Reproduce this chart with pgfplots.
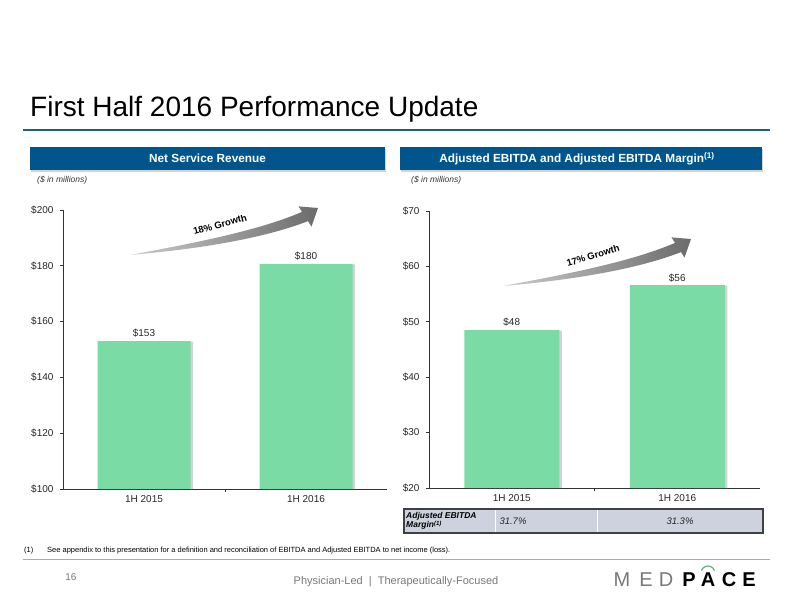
\documentclass[border=0pt]{standalone}
\usepackage{fontspec}
\setmainfont{Liberation Sans}
\usepackage{pgfplots}
\pgfplotsset{compat=1.18}
\usepackage{pgfplotstable}
\usetikzlibrary{shadows}

\definecolor{mpblue}{RGB}{0,86,140}
\definecolor{mprule}{RGB}{25,95,145}
\definecolor{mpgreen}{RGB}{122,219,165}
\definecolor{mpline}{RGB}{110,206,150}
\definecolor{tblfill}{RGB}{205,210,222}
\definecolor{txtgray}{RGB}{120,120,120}

% bar heights, labels as printed
\pgfplotstableread{
x y lbl
0 153 153
1 180.7 180
}\revenue
\pgfplotstableread{
x y lbl
0 48.5 48
1 56.6 56
}\ebitda

\pgfplotsset{
  slidebar/.style={
    scale only axis, anchor=south west,
    xmin=-0.5, xmax=1.5,
    axis x line*=bottom, axis y line*=left,
    axis line style={black!80, line width=0.8pt},
    tick align=outside, major tick length=3pt,
    tick style={black!80, line width=0.6pt},
    xtick={0.5}, xticklabels={},
    extra x ticks={0,1}, extra x tick labels={1H 2015,1H 2016},
    extra x tick style={major tick length=0pt,
      xticklabel style={yshift=-3pt}},
    ticklabel style={font=\fontsize{10}{11}\selectfont, black!85},
    yticklabel style={xshift=-3pt},
    /pgf/number format/assume math mode=true,
    yticklabel={\$\pgfmathprintnumber{\tick}},
    ybar,
    nodes near coords={\$\pgfplotspointmeta},
    point meta=explicit symbolic,
    every node near coord/.append style={font=\fontsize{10}{11}\selectfont, black!85},
    clip=false,
  },
  greenbar/.style={fill=mpgreen, draw=none,
    drop shadow={shadow xshift=2.5pt, shadow yshift=-0.5pt, opacity=0.35}},
}

% growth arrow: x shift, y shift, text angle, text
\newcommand{\growtharrow}[4]{%
  \begin{scope}[shift={(#1,#2)}]
    \shade[left color=black!20, right color=black!58]
      (130,357) .. controls (200,370) and (260,382) .. (302,400.1)
      -- (298.5,405.6) -- (318,404) -- (311.5,385.4) -- (308,390.9)
      .. controls (265,374) and (200,363) .. (130,357) -- cycle;
    \node[rotate=#3, font=\bfseries\fontsize{9.5}{10}\selectfont, inner sep=1pt] at (220,387.5) {#4};
  \end{scope}}

\begin{document}
\begin{tikzpicture}
\path[use as bounding box] (0pt,0pt) rectangle (792pt,612pt);

% left chart
\begin{axis}[slidebar, at={(63pt,123pt)}, width=324pt, height=279pt,
    ymin=100, ymax=200, ytick={100,120,...,200}, bar width=93pt]
\addplot[greenbar] table[x=x, y=y, meta=lbl] {\revenue};
\end{axis}

% right chart
\begin{axis}[slidebar, at={(429pt,124pt)}, width=331pt, height=277pt,
    ymin=20, ymax=70, ytick={20,30,...,70}, bar width=95pt]
\addplot[greenbar] table[x=x, y=y, meta=lbl] {\ebitda};
\end{axis}

\begin{scope}[x=1pt, y=1pt]
% header
\node[anchor=base west, font=\fontsize{28}{30}\selectfont, inner sep=0pt] at (30,495) {First Half 2016 Performance Update};
\draw[mprule, line width=2.5pt] (23,482) -- (770,482);

\fill[mpblue, drop shadow={shadow xshift=1pt, shadow yshift=-2pt, opacity=0.35}] (30,442) rectangle (385,465);
\node[white, font=\bfseries\fontsize{11.8}{13}\selectfont] at (207.5,453.5) {Net Service Revenue};
\fill[mpblue, drop shadow={shadow xshift=1pt, shadow yshift=-2pt, opacity=0.35}] (400,442) rectangle (762,465);
\node[white, font=\bfseries\fontsize{11.8}{13}\selectfont] at (577,453.5) {Adjusted EBITDA and Adjusted EBITDA Margin\textsuperscript{(1)}};

\node[anchor=west, font=\itshape\fontsize{8.5}{9}\selectfont, black!80, inner sep=0pt] at (37,432) {(\$ in millions)};
\node[anchor=west, font=\itshape\fontsize{8.5}{9}\selectfont, black!80, inner sep=0pt] at (411,432) {(\$ in millions)};

\growtharrow{0}{0}{15}{18\% Growth}
\growtharrow{373}{-31}{17}{17\% Growth}

% margin row
\draw[black!75, line width=1.2pt, fill=tblfill] (404,79) rectangle (763,103);
\draw[white, line width=0.8pt] (495,80) -- (495,102) (597,80) -- (597,102);
\node[anchor=west, align=left, font=\bfseries\itshape\fontsize{8.5}{9.5}\selectfont, inner sep=0pt] at (406,91) {Adjusted EBITDA\\Margin\textsuperscript{(1)}};
\node[font=\itshape\fontsize{9.5}{10}\selectfont, black!85] at (513,91) {31.7\%};
\node[font=\itshape\fontsize{9.5}{10}\selectfont, black!85] at (680,91) {31.3\%};

% footnote and footer
\node[anchor=base west, font=\fontsize{7.5}{8}\selectfont, inner sep=0pt] at (24,59) {(1)};
\node[anchor=base west, font=\fontsize{7.5}{8}\selectfont, inner sep=0pt] at (47,59) {See appendix to this presentation for a definition and reconciliation of EBITDA and Adjusted EBITDA to net income (loss).};
\draw[mpline, line width=1pt] (23,52) -- (770,52);
\node[txtgray, font=\fontsize{10}{11}\selectfont] at (71,35) {16};
\node[txtgray, font=\fontsize{11}{12}\selectfont] at (396,30) {Physician-Led \ | \ Therapeutically-Focused};

% logo
\foreach \x/\l in {622/M,646/E,666/D}
  \node[txtgray, font=\fontsize{20}{21}\selectfont] at (\x,32) {\l};
\foreach \x/\l in {689/P,708/A,729/C,749/E}
  \node[black, font=\bfseries\fontsize{20}{21}\selectfont] at (\x,32) {\l};
\draw[mpgreen!80!black, line width=1.2pt] (701.4,41.4) arc (160:20:7);
\end{scope}
\end{tikzpicture}
\end{document}
